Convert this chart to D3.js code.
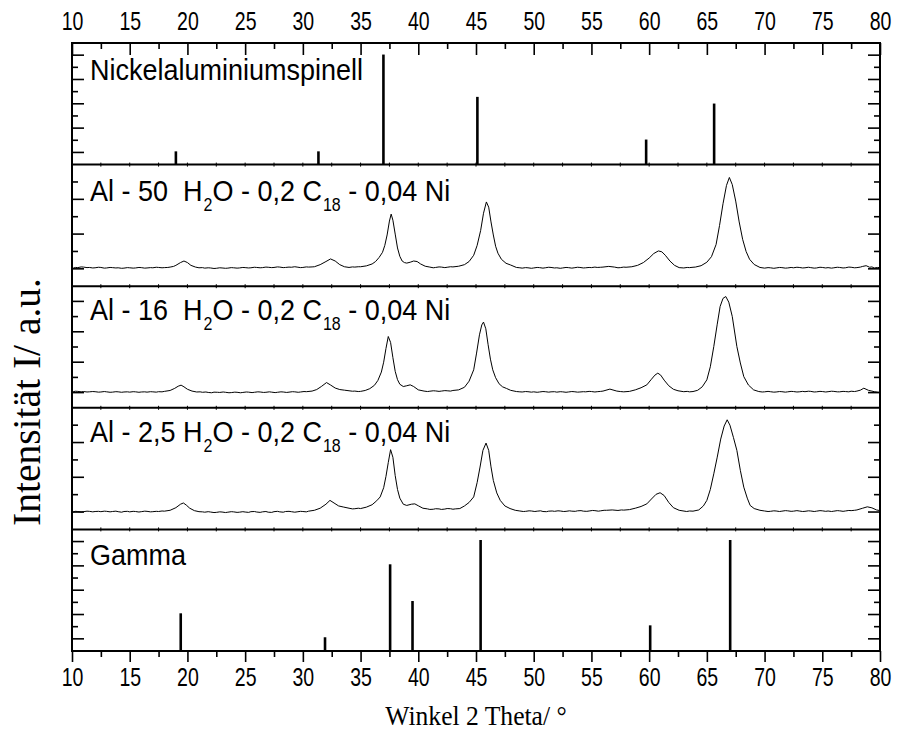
<!DOCTYPE html>
<html><head><meta charset="utf-8">
<script src="https://cdn.jsdelivr.net/npm/d3@7"></script>
<style>body{margin:0;background:#fff}text{white-space:pre}</style></head>
<body><svg id="c" width="897" height="731"></svg>
<script>
// ---------------- data ----------------
const xTickValues = [10, 15, 20, 25, 30, 35, 40, 45, 50, 55, 60, 65, 70, 75, 80];
const xMinorTicks = [12.5, 17.5, 22.5, 27.5, 32.5, 37.5, 42.5, 47.5, 52.5, 57.5, 62.5, 67.5, 72.5, 77.5];
const panelIds = ["nickel", "al50", "al16", "al25", "gamma"];
const panelYMax = [10, 7, 8, 7, 10];
const panelYTicks = [[1,2,3,4,5,6,7,8,9],[1,2,3,4,5,6],[1,2,3,4,5,6,7],[1,2,3,4,5,6],[1,2,3,4,5,6,7,8,9]];
const panelLabels = [
  [["Nickelaluminiumspinell", false]],
  [["Al - 50  H", false], ["2", true], ["O - 0,2 C", false], ["18", true], [" - 0,04 Ni", false]],
  [["Al - 16  H", false], ["2", true], ["O - 0,2 C", false], ["18", true], [" - 0,04 Ni", false]],
  [["Al - 2,5 H", false], ["2", true], ["O - 0,2 C", false], ["18", true], [" - 0,04 Ni", false]],
  [["Gamma", false]]
];
const nickelPos = [19.0, 31.35, 36.98, 45.12, 59.74, 65.63];
const nickelInt = [1.09, 1.09, 9.05, 5.57, 2.06, 5.02];
const gammaPos = [19.42, 31.92, 37.56, 39.5, 45.4, 60.09, 67.02];
const gammaInt = [3.1, 1.13, 7.13, 4.11, 9.13, 2.11, 9.13];
const al50 = [[10.1,1.04],[10.3,1.08],[10.5,1.07],[10.8,1.11],[11,1.10],[11.3,1.07],[11.5,1.08],[11.8,1.05],[12,1.06],[12.3,1.09],[12.5,1.08],[12.8,1.04],[13,1.05],[13.3,1.08],[13.5,1.07],[13.8,1.05],[14,1.06],[14.3,1.03],[14.5,1.04],[14.8,1.07],[15,1.06],[15.3,1.04],[15.5,1.05],[15.8,1.08],[16,1.07],[16.3,1.04],[16.5,1.05],[16.8,1.07],[17,1.06],[17.3,1.09],[17.5,1.08],[17.8,1.06],[18,1.07],[18.3,1.08],[18.5,1.10],[18.8,1.14],[19,1.20],[19.4,1.36],[19.7,1.45],[20,1.36],[20.3,1.20],[20.7,1.10],[21,1.06],[21.3,1.07],[21.5,1.04],[21.8,1.06],[22,1.05],[22.3,1.02],[22.5,1.03],[22.8,1.06],[23,1.05],[23.3,1.03],[23.5,1.04],[23.8,1.07],[24,1.06],[24.3,1.04],[24.5,1.05],[24.8,1.08],[25,1.07],[25.3,1.05],[25.5,1.06],[25.8,1.09],[26,1.08],[26.3,1.06],[26.5,1.07],[26.8,1.10],[27,1.09],[27.3,1.07],[27.5,1.08],[27.8,1.11],[28,1.10],[28.3,1.07],[28.5,1.08],[28.8,1.10],[29,1.09],[29.3,1.12],[29.5,1.10],[29.8,1.07],[30,1.08],[30.3,1.11],[30.5,1.10],[30.8,1.11],[31,1.12],[31.5,1.24],[32,1.42],[32.4,1.57],[32.8,1.45],[33.2,1.24],[33.6,1.12],[34,1.08],[34.3,1.11],[34.5,1.10],[34.8,1.12],[35,1.12],[35.5,1.17],[36,1.28],[36.3,1.42],[36.6,1.65],[36.9,1.95],[37.1,2.35],[37.3,2.95],[37.5,3.75],[37.65,4.15],[37.8,3.80],[38.0,3.00],[38.2,2.20],[38.4,1.72],[38.6,1.45],[38.8,1.36],[39.0,1.33],[39.3,1.38],[39.6,1.45],[39.9,1.42],[40.2,1.28],[40.6,1.15],[41,1.10],[41.3,1.06],[41.5,1.08],[41.8,1.11],[42,1.10],[42.3,1.07],[42.5,1.09],[42.8,1.12],[43,1.11],[43.5,1.15],[44,1.24],[44.4,1.42],[44.8,1.78],[45.1,2.35],[45.4,3.20],[45.65,4.20],[45.9,4.85],[46.1,4.55],[46.3,3.70],[46.5,2.95],[46.7,2.30],[46.9,1.90],[47.2,1.55],[47.6,1.32],[48,1.22],[48.5,1.08],[48.8,1.06],[49,1.04],[49.3,1.07],[49.5,1.06],[49.8,1.03],[50,1.05],[50.3,1.08],[50.5,1.07],[50.8,1.04],[51,1.06],[51.3,1.09],[51.5,1.08],[51.8,1.05],[52,1.06],[52.3,1.03],[52.5,1.05],[52.8,1.08],[53,1.07],[53.3,1.04],[53.5,1.06],[53.8,1.09],[54,1.08],[54.3,1.05],[54.5,1.06],[54.8,1.08],[55,1.07],[55.3,1.10],[55.5,1.08],[55.8,1.09],[56,1.10],[56.5,1.14],[57,1.10],[57.3,1.06],[57.5,1.07],[57.8,1.10],[58,1.09],[58.5,1.12],[59,1.20],[59.5,1.36],[60,1.62],[60.4,1.88],[60.8,2.03],[61.1,1.98],[61.4,1.78],[61.8,1.45],[62.2,1.20],[62.6,1.07],[63,1.05],[63.3,1.08],[63.5,1.07],[63.8,1.09],[64,1.10],[64.5,1.18],[65,1.38],[65.4,1.70],[65.8,2.40],[66.1,3.50],[66.4,4.75],[66.7,5.80],[66.95,6.26],[67.2,5.85],[67.5,4.90],[67.8,3.70],[68.1,2.70],[68.4,2.00],[68.7,1.55],[69.1,1.25],[69.6,1.08],[70,1.04],[70.3,1.07],[70.5,1.06],[70.8,1.03],[71,1.05],[71.3,1.08],[71.5,1.07],[71.8,1.04],[72,1.05],[72.3,1.08],[72.5,1.06],[72.8,1.09],[73,1.08],[73.3,1.05],[73.5,1.06],[73.8,1.09],[74,1.07],[74.3,1.04],[74.5,1.05],[74.8,1.09],[75,1.08],[75.3,1.05],[75.5,1.07],[75.8,1.04],[76,1.06],[76.3,1.09],[76.5,1.08],[76.8,1.05],[77,1.06],[77.3,1.10],[77.5,1.09],[77.8,1.06],[78,1.07],[78.3,1.10],[78.5,1.14],[78.8,1.18],[79.1,1.09],[79.3,1.11],[79.5,1.05],[79.8,1.08],[80,1.07]];
const al16 = [[10.1,1.06],[10.3,1.09],[10.5,1.08],[10.8,1.05],[11,1.07],[11.3,1.04],[11.5,1.05],[11.8,1.07],[12,1.06],[12.3,1.03],[12.5,1.04],[12.8,1.07],[13,1.05],[13.3,1.02],[13.5,1.03],[13.8,1.06],[14,1.05],[14.3,1.02],[14.5,1.04],[14.8,1.05],[15,1.03],[15.3,1.06],[15.5,1.05],[15.8,1.02],[16,1.04],[16.3,1.05],[16.5,1.03],[16.8,1.06],[17,1.05],[17.3,1.03],[17.5,1.06],[17.8,1.05],[18,1.08],[18.5,1.14],[18.9,1.28],[19.2,1.42],[19.45,1.49],[19.7,1.38],[20,1.22],[20.4,1.10],[20.8,1.04],[21.1,1.05],[21.3,1.02],[21.6,1.04],[21.8,1.01],[22.1,0.99],[22.3,1.03],[22.6,1.02],[22.8,1.01],[23.1,1.04],[23.3,1.02],[23.6,0.99],[23.8,1.00],[24.1,1.03],[24.3,1.02],[24.6,0.99],[24.8,1.01],[25.1,1.04],[25.3,1.03],[25.6,1.00],[25.8,1.02],[26.1,1.05],[26.3,1.04],[26.6,1.01],[26.8,1.02],[27.1,1.05],[27.3,1.03],[27.6,1.00],[27.8,1.02],[28.1,1.05],[28.3,1.04],[28.6,1.01],[28.8,1.03],[29.1,1.06],[29.3,1.05],[29.6,1.02],[29.8,1.04],[30.1,1.07],[30.3,1.06],[30.8,1.10],[31.2,1.20],[31.6,1.40],[32.05,1.66],[32.4,1.50],[32.8,1.30],[33.2,1.20],[33.6,1.16],[34,1.12],[34.3,1.09],[34.5,1.10],[34.8,1.07],[35,1.08],[35.4,1.14],[35.8,1.26],[36.2,1.48],[36.5,1.80],[36.8,2.35],[37.0,3.00],[37.2,3.90],[37.4,4.69],[37.6,4.30],[37.8,3.30],[38.0,2.40],[38.2,1.85],[38.4,1.55],[38.7,1.40],[39.0,1.45],[39.3,1.51],[39.6,1.40],[40.0,1.18],[40.5,1.10],[40.8,1.07],[41,1.09],[41.3,1.12],[41.5,1.11],[41.8,1.08],[42,1.10],[42.3,1.13],[42.5,1.12],[42.8,1.10],[43,1.14],[43.5,1.18],[44,1.35],[44.4,1.75],[44.8,2.50],[45.05,3.60],[45.3,4.80],[45.5,5.45],[45.65,5.64],[45.85,5.20],[46.05,4.15],[46.25,3.20],[46.45,2.50],[46.7,1.98],[47.0,1.58],[47.3,1.38],[47.65,1.27],[48.0,1.15],[48.5,1.07],[48.8,1.05],[49,1.04],[49.3,1.07],[49.5,1.06],[49.8,1.03],[50,1.05],[50.3,1.02],[50.5,1.04],[50.8,1.07],[51,1.06],[51.3,1.03],[51.5,1.05],[51.8,1.06],[52,1.03],[52.3,1.06],[52.5,1.05],[52.8,1.02],[53,1.04],[53.3,1.07],[53.5,1.06],[53.8,1.03],[54,1.04],[54.3,1.06],[54.5,1.05],[54.8,1.08],[55,1.07],[55.3,1.04],[55.5,1.06],[55.8,1.08],[56,1.10],[56.6,1.23],[57.2,1.10],[57.5,1.07],[57.8,1.05],[58.3,1.08],[58.8,1.18],[59.3,1.32],[59.8,1.51],[60.2,1.88],[60.5,2.15],[60.75,2.28],[61.0,2.15],[61.3,1.82],[61.7,1.45],[62.1,1.22],[62.5,1.12],[63,1.06],[63.3,1.08],[63.5,1.05],[63.8,1.07],[64.2,1.15],[64.6,1.38],[65.0,1.84],[65.3,2.70],[65.6,4.03],[65.9,5.50],[66.15,6.67],[66.4,7.20],[66.64,7.32],[66.9,6.95],[67.2,6.01],[67.6,4.03],[67.9,2.95],[68.2,2.05],[68.6,1.50],[69.05,1.18],[69.5,1.07],[69.8,1.04],[70,1.05],[70.3,1.08],[70.5,1.06],[70.8,1.03],[71,1.04],[71.3,1.07],[71.5,1.06],[71.8,1.03],[72,1.05],[72.3,1.08],[72.5,1.07],[72.8,1.04],[73,1.05],[73.3,1.08],[73.5,1.06],[73.8,1.09],[74,1.08],[74.3,1.04],[74.5,1.05],[74.8,1.08],[75,1.07],[75.3,1.04],[75.5,1.06],[75.8,1.09],[76,1.08],[76.3,1.05],[76.5,1.05],[76.8,1.08],[77,1.07],[77.3,1.05],[77.5,1.09],[77.8,1.07],[78,1.10],[78.3,1.16],[78.6,1.29],[79.0,1.15],[79.3,1.10],[79.5,1.06],[79.8,1.03],[80,1.01]];
const al25 = [[10.1,1.00],[10.3,1.04],[10.5,1.03],[10.8,1.00],[11,1.02],[11.3,1.05],[11.5,1.04],[11.8,1.01],[12,1.03],[12.3,1.04],[12.5,1.02],[12.8,1.05],[13,1.04],[13.3,1.01],[13.5,1.03],[13.8,1.05],[14,1.02],[14.3,0.99],[14.5,1.03],[14.8,1.04],[15,1.01],[15.3,1.04],[15.5,1.03],[15.8,1.00],[16,1.02],[16.3,1.05],[16.5,1.04],[16.8,1.01],[17,1.02],[17.3,1.04],[17.5,1.03],[17.8,1.06],[18,1.05],[18.5,1.10],[19,1.25],[19.4,1.45],[19.65,1.52],[19.9,1.40],[20.2,1.22],[20.6,1.08],[21,1.02],[21.3,1.01],[21.5,0.99],[21.8,1.02],[22,1.00],[22.3,0.97],[22.5,0.98],[22.8,1.01],[23,1.00],[23.3,0.97],[23.5,0.99],[23.8,1.02],[24,1.01],[24.3,0.98],[24.5,0.99],[24.8,1.02],[25,1.00],[25.3,0.98],[25.5,1.02],[25.8,1.03],[26,1.00],[26.3,0.98],[26.5,1.01],[26.8,1.03],[27,0.99],[27.3,0.98],[27.5,1.02],[27.8,1.04],[28,1.01],[28.3,0.99],[28.5,1.03],[28.8,1.04],[29,1.02],[29.3,0.99],[29.5,1.01],[29.8,1.04],[30,1.03],[30.3,1.01],[30.5,1.05],[31,1.10],[31.5,1.22],[32,1.45],[32.35,1.67],[32.7,1.52],[33.1,1.35],[33.5,1.29],[34,1.22],[34.3,1.18],[34.5,1.19],[34.8,1.22],[35,1.20],[35.5,1.28],[36,1.42],[36.4,1.65],[36.7,1.87],[37.0,2.40],[37.2,3.05],[37.4,3.85],[37.6,4.59],[37.8,4.15],[38.0,3.10],[38.2,2.30],[38.4,1.80],[38.7,1.45],[39.0,1.38],[39.4,1.45],[39.7,1.47],[40.0,1.36],[40.4,1.22],[40.8,1.18],[41.0,1.15],[41.3,1.16],[41.5,1.19],[41.8,1.18],[42.0,1.15],[42.3,1.17],[42.5,1.20],[42.8,1.19],[43.0,1.16],[43.2,1.18],[43.6,1.20],[44.0,1.35],[44.4,1.55],[44.8,1.87],[45.1,2.70],[45.35,3.59],[45.6,4.55],[45.87,4.97],[46.1,4.55],[46.3,3.60],[46.5,2.82],[46.8,2.10],[47.1,1.67],[47.5,1.35],[47.95,1.20],[48.4,1.10],[48.8,1.06],[49.1,1.03],[49.3,1.04],[49.6,1.07],[49.8,1.06],[50.1,1.03],[50.3,1.05],[50.6,1.07],[50.8,1.03],[51.1,1.02],[51.3,1.05],[51.6,1.06],[51.8,1.04],[52.1,1.07],[52.3,1.06],[52.6,1.03],[52.8,1.04],[53.1,1.07],[53.3,1.05],[53.6,1.04],[53.8,1.07],[54.1,1.08],[54.3,1.05],[54.6,1.04],[54.8,1.06],[55.1,1.09],[55.3,1.08],[55.6,1.05],[55.8,1.07],[56.1,1.10],[56.3,1.10],[56.8,1.12],[57.3,1.09],[57.6,1.12],[57.8,1.11],[58.3,1.14],[58.8,1.22],[59.3,1.32],[59.8,1.47],[60.2,1.75],[60.6,2.02],[60.95,2.11],[61.3,1.95],[61.7,1.55],[62.1,1.25],[62.6,1.10],[63.25,1.03],[63.5,1.06],[63.8,1.05],[64.3,1.12],[64.7,1.35],[65.0,1.67],[65.3,2.30],[65.6,3.20],[65.9,4.16],[66.2,5.20],[66.5,5.95],[66.76,6.31],[67.0,6.00],[67.3,5.30],[67.6,4.55],[67.9,3.40],[68.2,2.43],[68.5,1.80],[68.75,1.38],[69.1,1.20],[69.6,1.10],[70,1.06],[70.3,1.03],[70.5,1.04],[70.8,1.07],[71,1.06],[71.3,1.03],[71.5,1.05],[71.8,1.08],[72,1.07],[72.3,1.04],[72.5,1.05],[72.8,1.08],[73,1.06],[73.3,1.03],[73.5,1.04],[73.8,1.07],[74,1.06],[74.3,1.03],[74.5,1.05],[74.8,1.08],[75,1.07],[75.3,1.04],[75.5,1.06],[75.8,1.03],[76,1.05],[76.3,1.08],[76.5,1.07],[76.8,1.04],[77,1.06],[77.3,1.09],[77.5,1.08],[77.8,1.10],[78,1.12],[78.5,1.22],[78.9,1.30],[79.3,1.24],[79.7,1.12],[80,1.08]];
const xTitle = "Winkel 2 Theta/ °";
const yTitle = "Intensität I/ a.u.";

// ---------------- layout ----------------
const L = 72, R = 880, T = 43, B = 651;
const svg = d3.select("#c");
const SANS = "'Liberation Sans', Arial, sans-serif";
const SERIF = "'Liberation Serif', 'Times New Roman', serif";
const x = d3.scaleLinear().domain([10, 80]).range([L, R]);
const band = d3.scaleBand().domain(panelIds).range([T, B]).padding(0);
const labelOffsets = [37, 36, 34, 34, 36];

const panelData = { nickel: nickelPos.map((p, i) => [p, nickelInt[i]]),
                    gamma: gammaPos.map((p, i) => [p, gammaInt[i]]),
                    al50: al50, al16: al16, al25: al25 };

panelIds.forEach((id, i) => {
  const y0 = band(id), y1 = y0 + band.bandwidth();
  const y = d3.scaleLinear().domain([0, panelYMax[i]]).range([y1, y0]);
  const g = svg.append("g");

  // left / right ticks (inward)
  panelYTicks[i].forEach(t => {
    const len = (t % 2 === 1) ? 12 : 6;
    g.append("line").attr("x1", L).attr("x2", L + len).attr("y1", y(t)).attr("y2", y(t))
      .attr("stroke", "#000").attr("stroke-width", 1.6);
    g.append("line").attr("x1", R).attr("x2", R - len).attr("y1", y(t)).attr("y2", y(t))
      .attr("stroke", "#000").attr("stroke-width", 1.6);
  });
  // tiny ticks on panel separators
  if (i < panelIds.length - 1) {
    xTickValues.concat(xMinorTicks).forEach(v => {
      g.append("line").attr("x1", x(v)).attr("x2", x(v)).attr("y1", y1 - 2).attr("y2", y1 + 2)
        .attr("stroke", "#000").attr("stroke-width", 1);
    });
  }

  const data = panelData[id];
  if (id === "nickel" || id === "gamma") {
    g.selectAll("line.bar").data(data).join("line").attr("class", "bar")
      .attr("x1", d => x(d[0])).attr("x2", d => x(d[0]))
      .attr("y1", y(0)).attr("y2", d => y(d[1]))
      .attr("stroke", "#000").attr("stroke-width", 2.6);
  } else {
    const line = d3.line().x(d => x(d[0])).y(d => y(d[1]));
    g.append("path").datum(data).attr("d", line)
      .attr("fill", "none").attr("stroke", "#000").attr("stroke-width", 1)
      .attr("stroke-linejoin", "round");
  }

  // separator line
  if (i > 0) {
    g.append("line").attr("x1", L).attr("x2", R).attr("y1", y0).attr("y2", y0)
      .attr("stroke", "#000").attr("stroke-width", 2);
  }

  // label
  const txt = g.append("text")
    .attr("transform", `translate(90,${y0 + labelOffsets[i]}) scale(1,1.1)`)
    .attr("font-family", SANS).attr("font-size", 27).attr("fill", "#000");
  let sub = false;
  panelLabels[i].forEach(([s, isSub]) => {
    const ts = txt.append("tspan").text(s);
    if (isSub && !sub) { ts.attr("font-size", 16).attr("dy", 9).attr("dx", 1); sub = true; }
    else if (!isSub && sub) { ts.attr("dy", -9); sub = false; }
    else if (isSub) ts.attr("font-size", 16);
  });
});

// frame
svg.append("rect").attr("x", L).attr("y", T).attr("width", R - L).attr("height", B - T)
  .attr("fill", "none").attr("stroke", "#000").attr("stroke-width", 2);

// top axis: inward ticks
const topAxis = d3.axisTop(x).tickValues(xTickValues).tickSize(-12).tickFormat(d3.format("d"));
const gt = svg.append("g").attr("transform", `translate(0,${T})`).call(topAxis);
gt.select(".domain").remove();
gt.selectAll(".tick line").attr("stroke-width", 1.6);
gt.selectAll(".tick text").attr("font-family", SANS).attr("font-size", 19.5).attr("fill", "#000")
  .attr("y", -13 / 1.28).attr("dy", 0).attr("transform", "scale(1,1.28)");
const topMinor = d3.axisTop(x).tickValues(xMinorTicks).tickSize(-6).tickFormat("");
const gtm = svg.append("g").attr("transform", `translate(0,${T})`).call(topMinor);
gtm.select(".domain").remove();
gtm.selectAll(".tick line").attr("stroke-width", 1.6);

// bottom axis: outward ticks
const botAxis = d3.axisBottom(x).tickValues(xTickValues).tickSize(11).tickFormat(d3.format("d"));
const gb = svg.append("g").attr("transform", `translate(0,${B})`).call(botAxis);
gb.select(".domain").remove();
gb.selectAll(".tick line").attr("stroke-width", 1.6);
gb.selectAll(".tick text").attr("font-family", SANS).attr("font-size", 19.5).attr("fill", "#000")
  .attr("y", 34.7 / 1.28).attr("dy", 0).attr("transform", "scale(1,1.28)");
const botMinor = d3.axisBottom(x).tickValues(xMinorTicks).tickSize(6).tickFormat("");
const gbm = svg.append("g").attr("transform", `translate(0,${B})`).call(botMinor);
gbm.select(".domain").remove();
gbm.selectAll(".tick line").attr("stroke-width", 1.6);

// axis titles
svg.append("text").attr("transform", `translate(${(L + R) / 2},725) scale(1,1.08)`)
  .attr("text-anchor", "middle").attr("font-family", SERIF).attr("font-size", 25.6)
  .attr("fill", "#000").text(xTitle);
svg.append("text").attr("transform", `translate(40,402) rotate(-90)`)
  .attr("text-anchor", "middle").attr("font-family", SERIF).attr("font-size", 39.5)
  .attr("fill", "#000").text(yTitle);
</script></body></html>
